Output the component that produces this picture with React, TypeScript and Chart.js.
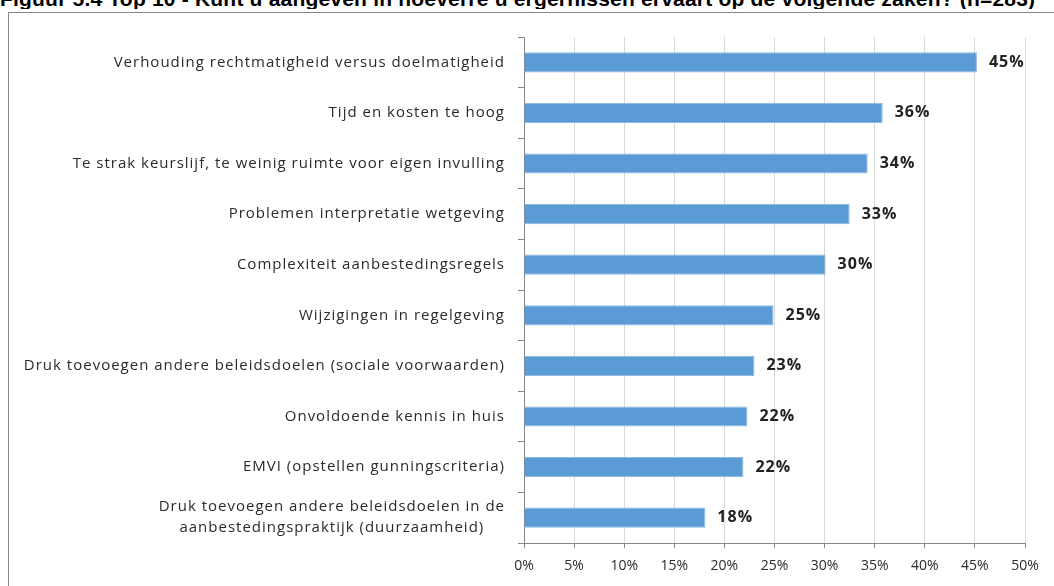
import React, { useEffect, useRef } from "react";
import { Chart, registerables } from "chart.js";

Chart.register(...registerables);

const title =
  "Figuur 5.4 Top 10 - Kunt u aangeven in hoeverre u ergernissen ervaart op de volgende zaken? (n=283)";

const categories: (string | string[])[] = [
  "Verhouding rechtmatigheid versus doelmatigheid",
  "Tijd en kosten te hoog",
  "Te strak keurslijf, te weinig ruimte voor eigen invulling",
  "Problemen interpretatie wetgeving",
  "Complexiteit aanbestedingsregels",
  "Wijzigingen in regelgeving",
  "Druk toevoegen andere beleidsdoelen (sociale voorwaarden)",
  "Onvoldoende kennis in huis",
  "EMVI (opstellen gunningscriteria)",
  ["Druk toevoegen andere beleidsdoelen in de", "aanbestedingspraktijk (duurzaamheid)"],
];

const values = [45.2, 35.8, 34.3, 32.5, 30.1, 24.9, 23.0, 22.3, 21.9, 18.1];
const valueLabels = ["45%", "36%", "34%", "33%", "30%", "25%", "23%", "22%", "22%", "18%"];

const xMin = 0;
const xMax = 50;
const xStep = 5;

const FONT = "'Open Sans', 'Noto Sans', sans-serif";

const labelPlugin = {
  id: "customLabels",
  afterDraw(chart: any) {
    const ctx = chart.ctx;
    const yScale = chart.scales.y;
    const meta = chart.getDatasetMeta(0);
    ctx.save();
    // category labels
    ctx.font = `15px ${FONT}`;
    (ctx as any).letterSpacing = "1px";
    ctx.fillStyle = "#2b2b2b";
    ctx.textBaseline = "middle";
    const rightX = yScale.right - 19;
    categories.forEach((lab, i) => {
      const y = yScale.getPixelForValue(i);
      const lines = Array.isArray(lab) ? lab : [lab];
      const widths = lines.map((l) => ctx.measureText(l).width);
      const maxW = Math.max(...widths);
      const lh = 21;
      const startY = y - ((lines.length - 1) * lh) / 2;
      lines.forEach((l, k) => {
        const w = widths[k];
        ctx.textAlign = "left";
        ctx.fillText(l, rightX - maxW / 2 - w / 2, startY + k * lh);
      });
    });
    // value labels
    ctx.font = `bold 16px ${FONT}`;
    (ctx as any).letterSpacing = "1px";
    ctx.fillStyle = "#222222";
    ctx.textAlign = "left";
    meta.data.forEach((bar: any, i: number) => {
      ctx.fillText(valueLabels[i], bar.x + 12, bar.y);
    });
    ctx.restore();
  },
};

export default function App() {
  const ref = useRef<HTMLCanvasElement | null>(null);

  useEffect(() => {
    if (!ref.current) return;
    const chart = new Chart(ref.current, {
      type: "bar",
      data: {
        labels: categories.map((c) => (Array.isArray(c) ? c.join(" ") : c)),
        datasets: [
          {
            data: values,
            backgroundColor: "#5B9BD5",
            borderColor: "#8DB8E2",
            borderWidth: 1,
            barPercentage: 0.4,
            categoryPercentage: 1,
          },
        ],
      },
      options: {
        indexAxis: "y",
        responsive: false,
        animation: false,
        layout: { padding: { left: 0, right: 29, top: 24, bottom: 0 } },
        plugins: {
          legend: { display: false },
          tooltip: { enabled: false },
          title: { display: false },
        },
        scales: {
          x: {
            min: xMin,
            max: xMax,
            ticks: {
              stepSize: xStep,
              callback: (v: any) => `${v}%`,
              color: "#2b2b2b",
              font: { family: FONT, size: 14 },
              padding: 10,
              maxRotation: 0,
            },
            grid: {
              color: "#D9D9D9",
              lineWidth: 1,
              tickColor: "#868686",
              tickLength: 5,
            },
            border: { color: "#868686" },
            afterFit: (s: any) => {
              s.height = 43;
            },
          },
          y: {
            ticks: { color: "rgba(0,0,0,0)", font: { family: FONT, size: 15 } },
            grid: {
              drawOnChartArea: false,
              tickColor: "#868686",
              tickLength: 6,
              offset: true,
            },
            border: { color: "#868686" },
            afterFit: (s: any) => {
              s.width = 515;
            },
          },
        },
      },
      plugins: [labelPlugin],
    });
    return () => chart.destroy();
  }, []);

  return (
    <div>
      <div
        style={{
          position: "absolute",
          left: 0,
          top: -12,
          width: 1054,
          overflow: "hidden",
          whiteSpace: "nowrap",
          fontFamily: "'Liberation Sans', Arial, sans-serif",
          fontWeight: "bold",
          fontSize: 21,
          letterSpacing: "0.2px",
          lineHeight: 1,
          color: "#000",
        }}
      >
        {title}
      </div>
      <div
        style={{
          position: "absolute",
          left: 8,
          top: 12,
          width: 1045,
          height: 573,
          borderLeft: "1px solid #868686",
          borderTop: "1px solid #868686",
          background: "#fff",
        }}
      >
        <canvas ref={ref} width={1045} height={573} style={{ display: "block" }} />
      </div>
    </div>
  );
}
